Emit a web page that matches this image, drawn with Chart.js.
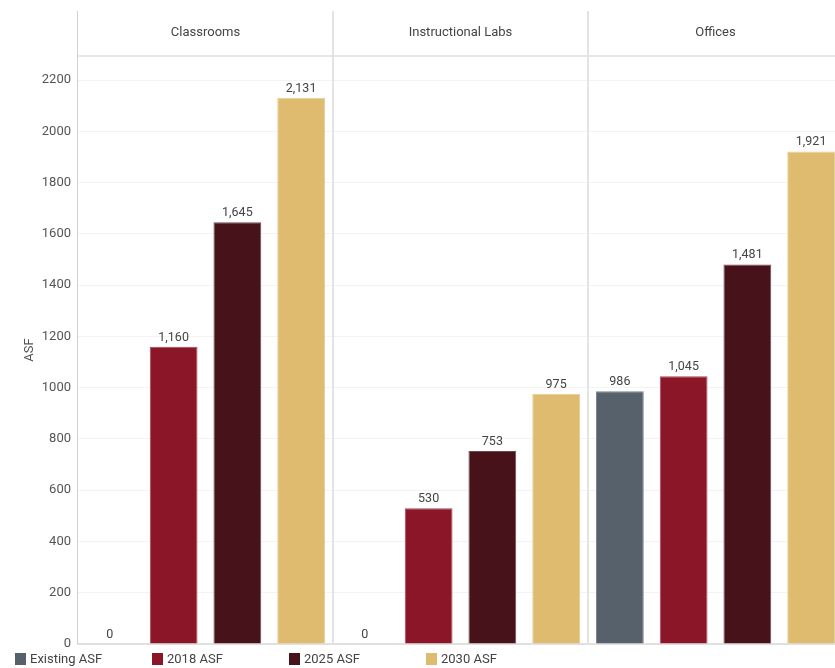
<!DOCTYPE html>
<html>
<head>
<meta charset="utf-8">
<script src="https://cdn.jsdelivr.net/npm/chart.js@4.4.0/dist/chart.umd.min.js"></script>
<style>
  html, body { margin: 0; padding: 0; background: #fff; overflow: hidden; }
  #wrap { position: relative; width: 845px; height: 668px; }
</style>
</head>
<body>
<div id="wrap"><canvas id="c"></canvas></div>
<script>
const categories = ["Classrooms", "Instructional Labs", "Offices"];
const seriesNames = ["Existing ASF", "2018 ASF", "2025 ASF", "2030 ASF"];
const existingASF = [0, 0, 986];
const asf2018 = [1160, 530, 1045];
const asf2025 = [1645, 753, 1481];
const asf2030 = [2131, 975, 1921];
const yTicks = [0, 200, 400, 600, 800, 1000, 1200, 1400, 1600, 1800, 2000, 2200];
const seriesColors = ["#56616c", "#8b1628", "#48121b", "#dfbb6f"];
const seriesBorders = ["#7b8590", "#a84a5a", "#6e4a50", "#e9cf98"];

const seriesValues = [existingASF, asf2018, asf2025, asf2030];

const fontFamily = "Roboto, 'Noto Sans', sans-serif";

const overlayPlugin = {
  id: 'overlay',
  afterDraw(chart) {
    const ctx = chart.ctx;
    const xs = chart.scales.x;
    const area = chart.chartArea;
    ctx.save();
    // header horizontal line
    ctx.strokeStyle = '#e6e6e6';
    ctx.lineWidth = 2;
    ctx.beginPath();
    ctx.moveTo(area.left, area.top);
    ctx.lineTo(area.right, area.top);
    ctx.stroke();
    // vertical separators extending into header
    ctx.lineWidth = 2;
    ctx.strokeStyle = '#e3e3e3';
    for (let i = 1; i < categories.length; i++) {
      const xb = (xs.getPixelForValue(i - 1) + xs.getPixelForValue(i)) / 2;
      ctx.beginPath();
      ctx.moveTo(xb, 11);
      ctx.lineTo(xb, area.bottom);
      ctx.stroke();
    }
    ctx.lineWidth = 1;
    ctx.strokeStyle = '#d0d0d0';
    ctx.beginPath();
    ctx.moveTo(area.left - 0.5, 11);
    ctx.lineTo(area.left - 0.5, area.bottom);
    ctx.stroke();
    // header titles
    ctx.fillStyle = '#444';
    ctx.font = "13px " + fontFamily;
    ctx.textAlign = 'center';
    ctx.textBaseline = 'middle';
    categories.forEach((c, i) => {
      ctx.fillText(c, xs.getPixelForValue(i), 33);
    });
    // data labels
    ctx.font = "12.5px " + fontFamily;
    ctx.fillStyle = '#444';
    ctx.textBaseline = 'bottom';
    chart.data.datasets.forEach((ds, di) => {
      const meta = chart.getDatasetMeta(di);
      meta.data.forEach((bar, i) => {
        const v = ds.data[i];
        ctx.fillText(v.toLocaleString('en-US'), bar.x, bar.y - 3);
      });
    });
    // legend
    ctx.font = "13px " + fontFamily;
    ctx.textAlign = 'left';
    ctx.textBaseline = 'middle';
    seriesNames.forEach((n, i) => {
      const x = 15 + i * 137;
      ctx.fillStyle = seriesColors[i];
      ctx.fillRect(x, 653, 11, 12);
      ctx.fillStyle = '#444';
      ctx.fillText(n, x + 15, 660);
    });
    ctx.restore();
  }
};

new Chart(document.getElementById('c'), {
  type: 'bar',
  data: {
    labels: categories,
    datasets: seriesNames.map((n, i) => ({
      label: n,
      data: seriesValues[i],
      backgroundColor: seriesColors[i],
      borderColor: seriesBorders[i],
      borderWidth: 1,
      borderSkipped: 'bottom',
      barPercentage: 0.75,
      categoryPercentage: 1.0
    }))
  },
  options: {
    responsive: true,
    maintainAspectRatio: false,
    animation: false,
    layout: { padding: { top: 56, bottom: 24, left: 0, right: 2 } },
    plugins: {
      legend: { display: false },
      tooltip: { enabled: false }
    },
    scales: {
      x: {
        ticks: { display: false },
        grid: { display: false, drawTicks: false },
        border: { display: true, color: '#e0e0e0', width: 2 }
      },
      y: {
        min: 0,
        max: 2294,
        afterBuildTicks(scale) {
          scale.ticks = yTicks.map(v => ({ value: v }));
        },
        afterFit(scale) { scale.width = 78; },
        ticks: {
          color: '#555',
          font: { family: fontFamily, size: 13 },
          padding: 7,
          callback: (v) => String(v)
        },
        grid: { color: '#f3f3f3', drawTicks: false },
        border: { display: false },
        title: {
          display: true,
          text: 'ASF',
          color: '#555',
          font: { family: fontFamily, size: 13 },
          padding: { top: 22, bottom: 0 }
        }
      }
    }
  },
  plugins: [overlayPlugin]
});
</script>
</body>
</html>
